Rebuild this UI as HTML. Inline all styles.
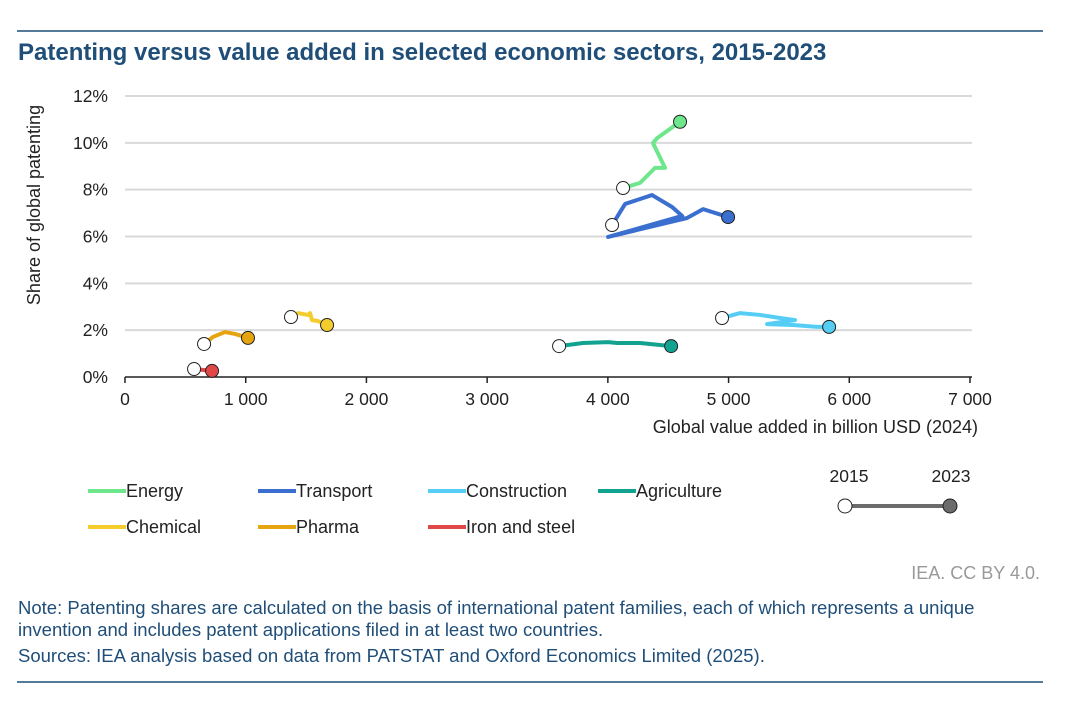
<!DOCTYPE html>
<html><head><meta charset="utf-8"><style>
body{margin:0;background:#fff;font-family:"Liberation Sans",Arial,sans-serif;}
#wrap{position:relative;width:1080px;height:709px;overflow:hidden;}
</style></head><body><div id="wrap">
<svg id="svg" width="1080" height="709" xmlns="http://www.w3.org/2000/svg">
<line x1="17" y1="31" x2="1043" y2="31" stroke="#1f4e79" stroke-width="1.5"/>
<text x="18" y="60" font-size="24" font-weight="bold" fill="#1f4e79">Patenting versus value added in selected economic sectors, 2015-2023</text>
<g id="grid"></g><g id="series"></g>
<text transform="translate(40,205) rotate(-90)" text-anchor="middle" font-size="18" fill="#222">Share of global patenting</text>
<text x="978" y="433" text-anchor="end" font-size="18" fill="#222">Global value added in billion USD (2024)</text>
<g id="legend"></g>
<g>
<text x="849" y="482" text-anchor="middle" font-size="17.5" fill="#222">2015</text>
<text x="951" y="482" text-anchor="middle" font-size="17.5" fill="#222">2023</text>
<line x1="845" y1="506" x2="950" y2="506" stroke="#6b6b6b" stroke-width="4"/>
<circle cx="845" cy="506" r="7" fill="#fff" stroke="#222" stroke-width="1"/>
<circle cx="950" cy="506" r="7" fill="#6b6b6b" stroke="#222" stroke-width="1"/>
</g>
<text x="1040" y="579" text-anchor="end" font-size="18" fill="#999">IEA. CC BY 4.0.</text>
<text x="18" y="614" font-size="18.5" fill="#1f4e79">Note: Patenting shares are calculated on the basis of international patent families, each of which represents a unique</text>
<text x="18" y="636" font-size="18.5" fill="#1f4e79">invention and includes patent applications filed in at least two countries.</text>
<text x="18" y="662" font-size="18.5" fill="#1f4e79">Sources: IEA analysis based on data from PATSTAT and Oxford Economics Limited (2025).</text>
<line x1="17" y1="682" x2="1043" y2="682" stroke="#1f4e79" stroke-width="1.5"/>
</svg>
<script>
const xTicks=[0,1000,2000,3000,4000,5000,6000,7000];
const xTickLabels=["0","1 000","2 000","3 000","4 000","5 000","6 000","7 000"];
const yTicks=[0,2,4,6,8,10,12];
const seriesNames=["Energy","Transport","Construction","Agriculture","Chemical","Pharma","Iron and steel"];
const seriesColors=["#6ee68c","#3a6fd0","#55cdf5","#12a390","#f5cc2e","#e6a410","#e04848"];
const energyX=[4126,4267,4391,4474,4374,4408,4598];
const energyY=[8.07,8.29,8.93,8.93,9.99,10.2,10.9];
const transportX=[4035,4143,4366,4532,4615,4002,4656,4789,4996];
const transportY=[6.49,7.39,7.77,7.26,6.88,5.98,6.79,7.17,6.83];
const constructionX=[4946,5095,5261,5427,5551,5319,5534,5733,5833];
const constructionY=[2.52,2.73,2.65,2.52,2.43,2.26,2.22,2.14,2.14];
const agricultureX=[3596,3794,4002,4076,4267,4524];
const agricultureY=[1.32,1.45,1.49,1.45,1.45,1.32];
const chemicalX=[1375,1433,1516,1533,1549,1599,1674];
const chemicalY=[2.56,2.73,2.65,2.73,2.43,2.39,2.22];
const pharmaX=[655,729,828,911,1019];
const pharmaY=[1.41,1.71,1.92,1.84,1.67];
const ironX=[572,721];
const ironY=[0.34,0.26];
const NS="http://www.w3.org/2000/svg";
const X=v=>125+v/7000*845, Y=v=>377-v/12*281;
function mk(t,a,p){const e=document.createElementNS(NS,t);for(const k in a)e.setAttribute(k,a[k]);p.appendChild(e);return e;}
const g=document.getElementById('grid');
yTicks.forEach(t=>{
 if(t>0){const l=mk('line',{x1:125,x2:972,y1:Y(t),y2:Y(t),stroke:'#d9d9d9','stroke-width':2},g);
 
 }
 const tx=mk('text',{x:108,y:Y(t)+6,'text-anchor':'end','font-size':17.5,fill:'#222'},g);tx.textContent=t+'%';
 
 
});
const ax=mk('line',{x1:125,x2:972,y1:377,y2:377,stroke:'#222','stroke-width':1.5},g);


xTicks.forEach((t,i)=>{
 mk('line',{x1:X(t),x2:X(t),y1:377,y2:383,stroke:'#222','stroke-width':1.5},g);
 const tx=mk('text',{x:X(t),y:405,'text-anchor':'middle','font-size':17.5,fill:'#222'},g);tx.textContent=xTickLabels[i];
 
 
});
const data=[[energyX,energyY],[transportX,transportY],[constructionX,constructionY],[agricultureX,agricultureY],[chemicalX,chemicalY],[pharmaX,pharmaY],[ironX,ironY]];
const s=document.getElementById('series');
data.forEach((d,i)=>{
 const [xs,ys]=d;const c=seriesColors[i];
 const grp=mk('g',{},s);
 
 
 mk('polyline',{points:xs.map((x,j)=>X(x)+','+Y(ys[j])).join(' '),fill:'none',stroke:c,'stroke-width':4,'stroke-linejoin':'round','stroke-linecap':'round'},grp);
 const n=xs.length-1;
 const a=mk('circle',{cx:X(xs[0]),cy:Y(ys[0]),r:6.5,fill:'#fff',stroke:'#222','stroke-width':1},grp);
 
 
 const b=mk('circle',{cx:X(xs[n]),cy:Y(ys[n]),r:6.5,fill:c,stroke:'#222','stroke-width':1},grp);
 
 
});
const lg=document.getElementById('legend');
const lx=[88,258,428,598,88,258,428], ly=[491,491,491,491,527,527,527];
seriesNames.forEach((n,i)=>{
 const e=mk('g',{},lg);
 
 
 mk('line',{x1:lx[i],x2:lx[i]+38,y1:ly[i],y2:ly[i],stroke:seriesColors[i],'stroke-width':4},e);
 const t=mk('text',{x:lx[i]+38,y:ly[i]+6,'font-size':18,fill:'#222'},e);t.textContent=n;
});
</script>
</div></body></html>
